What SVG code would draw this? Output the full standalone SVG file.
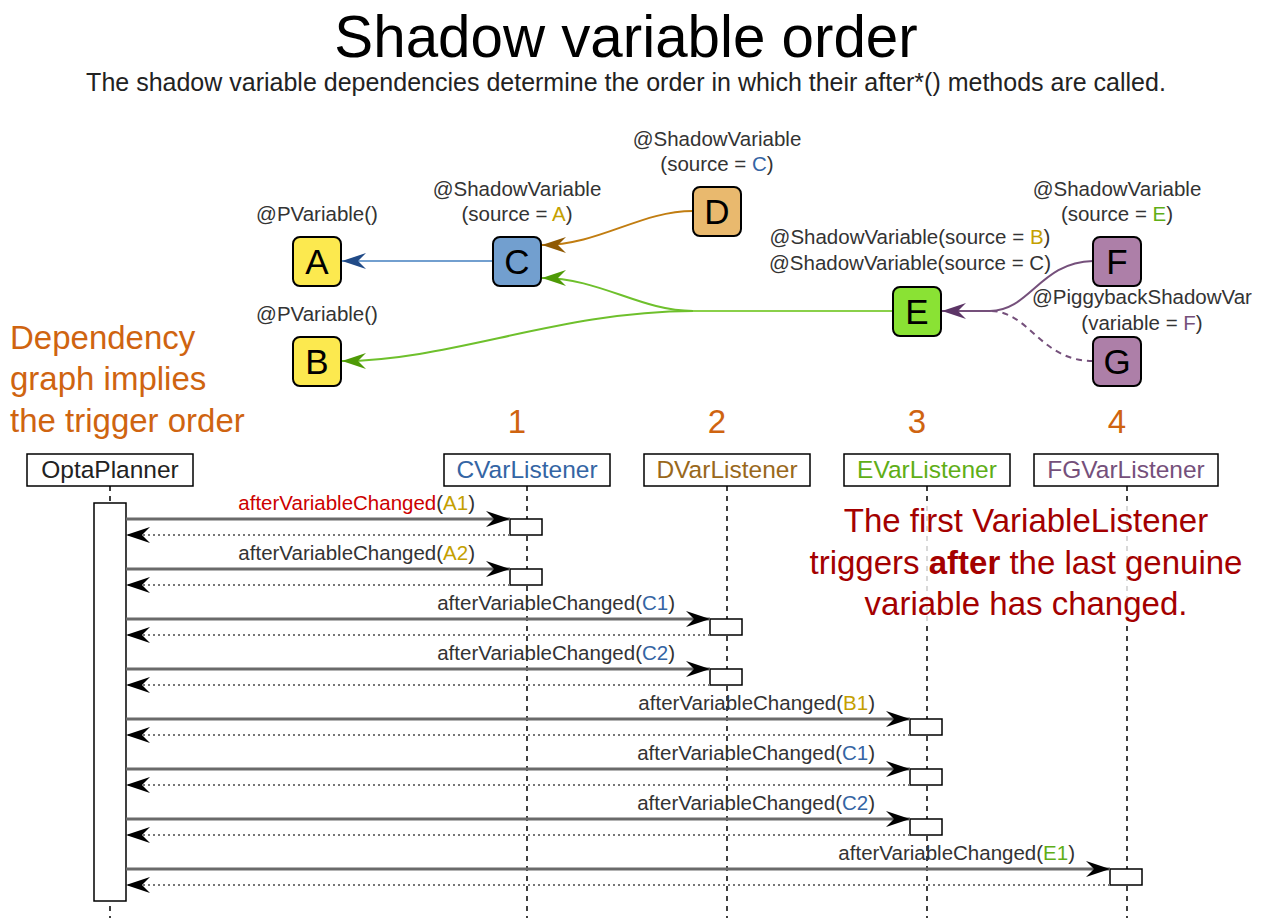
<svg xmlns="http://www.w3.org/2000/svg" width="1266" height="918" viewBox="0 0 1266 918">
<style>
text{font-family:"Liberation Sans",Arial,sans-serif}
.title{font-size:58.3px;fill:#000;text-anchor:middle}
.sub{font-size:25px;fill:#222;text-anchor:middle}
.lbl{font-size:20.5px;fill:#333;text-anchor:middle}
.letter{font-size:35px;fill:#000;text-anchor:middle}
.node{stroke:#000;stroke-width:2}
.orange{font-size:33px;fill:#cf6410}
.num{font-size:33px;fill:#cf6410;text-anchor:middle}
.red{font-size:33px;fill:#a40000;text-anchor:middle}
.part{fill:#fff;stroke:#000;stroke-width:1.5}
.ptxt{font-size:24.5px;text-anchor:middle}
.life{stroke:#000;stroke-width:1.5;stroke-dasharray:5,5;fill:none}
.act{fill:#fff;stroke:#000;stroke-width:1.5}
.call{stroke:#6a6a6a;stroke-width:3;fill:none}
.ret{stroke:#777;stroke-width:2;stroke-dasharray:2,3;fill:none}
.msg{font-size:20.5px;fill:#333;text-anchor:end}
.y{fill:#c4a000}.b{fill:#3465a4}.g{fill:#5fae17}.p{fill:#75507b}
</style>
<defs>
<marker id="mBlue" viewBox="-26 -9 27 18" refX="0" refY="0" markerWidth="27" markerHeight="18" markerUnits="userSpaceOnUse" orient="auto"><path d="M0,0 L-24,-8 L-16,0 L-24,8 Z" fill="#204a87"/></marker>
<marker id="mBrown" viewBox="-26 -9 27 18" refX="0" refY="0" markerWidth="27" markerHeight="18" markerUnits="userSpaceOnUse" orient="auto"><path d="M0,0 L-24,-8 L-16,0 L-24,8 Z" fill="#8f5902"/></marker>
<marker id="mGreen" viewBox="-26 -9 27 18" refX="0" refY="0" markerWidth="27" markerHeight="18" markerUnits="userSpaceOnUse" orient="auto"><path d="M0,0 L-24,-8 L-16,0 L-24,8 Z" fill="#4e9a06"/></marker>
<marker id="mPurple" viewBox="-26 -9 27 18" refX="0" refY="0" markerWidth="27" markerHeight="18" markerUnits="userSpaceOnUse" orient="auto"><path d="M0,0 L-24,-8 L-16,0 L-24,8 Z" fill="#5c3566"/></marker>
<marker id="mBlack" viewBox="-26 -9 27 18" refX="0" refY="0" markerWidth="27" markerHeight="18" markerUnits="userSpaceOnUse" orient="auto"><path d="M0,0 L-24,-8 L-16,0 L-24,8 Z" fill="#000"/></marker>
</defs>

<text class="title" x="626" y="57">Shadow variable order</text>
<text class="sub" x="626" y="91">The shadow variable dependencies determine the order in which their after*() methods are called.</text>

<g id="graph-connectors">
<path d="M493,261 L342,261" stroke="#729fcf" stroke-width="2.2" fill="none" marker-end="url(#mBlue)"/>
<path d="M693,211 C640,211 600,245 542,245" stroke="#c17d11" stroke-width="2" fill="none" marker-end="url(#mBrown)"/>
<path d="M893,311 L693,311" stroke="#8ad04a" stroke-width="2" fill="none"/>
<path d="M693,311 C640,311 600,278 542,278" stroke="#6ec02c" stroke-width="2" fill="none" marker-end="url(#mGreen)"/>
<path d="M693,311 C560,311 450,361 342,361" stroke="#6ec02c" stroke-width="2" fill="none" marker-end="url(#mGreen)"/>
<path d="M1093,261 C1040,262 1030,311 990,311 L942,311" stroke="#75507b" stroke-width="2" fill="none" marker-end="url(#mPurple)"/>
<path d="M1093,361 C1040,361 1030,311 990,311" stroke="#75507b" stroke-width="2" stroke-dasharray="6,5" fill="none"/>
</g>

<g id="node-A">
<text class="lbl" x="317" y="221">@PVariable()</text>
<rect class="node" x="293" y="237" width="48" height="49" rx="7" fill="#fce94f"/>
<text class="letter" x="317" y="274">A</text>
</g>
<g id="node-B">
<text class="lbl" x="317" y="321">@PVariable()</text>
<rect class="node" x="293" y="337" width="48" height="49" rx="7" fill="#fce94f"/>
<text class="letter" x="317" y="374">B</text>
</g>
<g id="node-C">
<text class="lbl" x="517" y="196">@ShadowVariable</text>
<text class="lbl" x="517" y="221">(source = <tspan class="y">A</tspan>)</text>
<rect class="node" x="493" y="237" width="48" height="49" rx="7" fill="#729fcf"/>
<text class="letter" x="517" y="274">C</text>
</g>
<g id="node-D">
<text class="lbl" x="717" y="146">@ShadowVariable</text>
<text class="lbl" x="717" y="171">(source = <tspan class="b">C</tspan>)</text>
<rect class="node" x="693" y="187" width="48" height="49" rx="7" fill="#e9b96e"/>
<text class="letter" x="717" y="224">D</text>
</g>
<g id="node-E">
<text class="lbl" x="910" y="244">@ShadowVariable(source = <tspan class="y">B</tspan>)</text>
<text class="lbl" x="910" y="270">@ShadowVariable(source = C)</text>
<rect class="node" x="893" y="287" width="48" height="49" rx="7" fill="#8ae234"/>
<text class="letter" x="917" y="324">E</text>
</g>
<g id="node-F">
<text class="lbl" x="1117" y="196">@ShadowVariable</text>
<text class="lbl" x="1117" y="221">(source = <tspan class="g">E</tspan>)</text>
<rect class="node" x="1093" y="237" width="48" height="49" rx="7" fill="#ad7fa8"/>
<text class="letter" x="1117" y="274">F</text>
</g>
<g id="node-G">
<text class="lbl" x="1142" y="304">@PiggybackShadowVar</text>
<text class="lbl" x="1142" y="330">(variable = <tspan class="p">F</tspan>)</text>
<rect class="node" x="1093" y="337" width="48" height="49" rx="7" fill="#ad7fa8"/>
<text class="letter" x="1117" y="374">G</text>
</g>

<g id="note-dependency">
<text class="orange" x="10" y="349">Dependency</text>
<text class="orange" x="10" y="390">graph implies</text>
<text class="orange" x="10" y="432">the trigger order</text>
</g>

<g id="order-numbers">
<text class="num" x="517" y="433">1</text>
<text class="num" x="717" y="433">2</text>
<text class="num" x="917" y="433">3</text>
<text class="num" x="1117" y="433">4</text>
</g>

<g id="lifelines">
<line class="life" x1="110" y1="486" x2="110" y2="918"/>
<line class="life" x1="527" y1="486" x2="527" y2="918"/>
<line class="life" x1="727" y1="486" x2="727" y2="918"/>
<line class="life" x1="927" y1="486" x2="927" y2="918"/>
<line class="life" x1="1127" y1="486" x2="1127" y2="918"/>
</g>

<g id="p-OptaPlanner"><rect class="part" x="27" y="454" width="166" height="32"/><text class="ptxt" x="110" y="478" fill="#222">OptaPlanner</text></g>
<g id="p-CVarListener"><rect class="part" x="444" y="454" width="166" height="32"/><text class="ptxt" x="527" y="478" fill="#3465a4">CVarListener</text></g>
<g id="p-DVarListener"><rect class="part" x="644" y="454" width="166" height="32"/><text class="ptxt" x="727" y="478" fill="#99681b">DVarListener</text></g>
<g id="p-EVarListener"><rect class="part" x="844" y="454" width="166" height="32"/><text class="ptxt" x="927" y="478" fill="#5fae17">EVarListener</text></g>
<g id="p-FGVarListener"><rect class="part" x="1034" y="454" width="184" height="32"/><text class="ptxt" x="1126" y="478" fill="#75507b">FGVarListener</text></g>

<g id="note-first">
<rect x="800" y="504" width="456" height="122" fill="#fff" opacity="0.8"/>
<text class="red" x="1026" y="532">The first VariableListener</text>
<text class="red" x="1026" y="574">triggers <tspan font-weight="bold">after</tspan> the last genuine</text>
<text class="red" x="1026" y="615">variable has changed.</text>
</g>

<g id="activations">
<rect class="act" x="94" y="503" width="32" height="398"/>
<rect class="act" x="510" y="519" width="32" height="16"/>
<rect class="act" x="510" y="569" width="32" height="16"/>
<rect class="act" x="710" y="619" width="32" height="16"/>
<rect class="act" x="710" y="669" width="32" height="16"/>
<rect class="act" x="910" y="719" width="32" height="16"/>
<rect class="act" x="910" y="769" width="32" height="16"/>
<rect class="act" x="910" y="819" width="32" height="16"/>
<rect class="act" x="1110" y="869" width="32" height="16"/>
</g>

<g id="messages">
<path class="call" d="M126,519 L510,519" marker-end="url(#mBlack)"/>
<path class="ret" d="M510,535 L126,535" marker-end="url(#mBlack)"/>
<text class="msg" x="475" y="510"><tspan fill="#cc0000">afterVariableChanged</tspan>(<tspan class="y">A1</tspan>)</text>

<path class="call" d="M126,569 L510,569" marker-end="url(#mBlack)"/>
<path class="ret" d="M510,585 L126,585" marker-end="url(#mBlack)"/>
<text class="msg" x="475" y="560">afterVariableChanged(<tspan class="y">A2</tspan>)</text>

<path class="call" d="M126,619 L710,619" marker-end="url(#mBlack)"/>
<path class="ret" d="M710,635 L126,635" marker-end="url(#mBlack)"/>
<text class="msg" x="675" y="610">afterVariableChanged(<tspan class="b">C1</tspan>)</text>

<path class="call" d="M126,669 L710,669" marker-end="url(#mBlack)"/>
<path class="ret" d="M710,685 L126,685" marker-end="url(#mBlack)"/>
<text class="msg" x="675" y="660">afterVariableChanged(<tspan class="b">C2</tspan>)</text>

<path class="call" d="M126,719 L910,719" marker-end="url(#mBlack)"/>
<path class="ret" d="M910,735 L126,735" marker-end="url(#mBlack)"/>
<text class="msg" x="875" y="710">afterVariableChanged(<tspan class="y">B1</tspan>)</text>

<path class="call" d="M126,769 L910,769" marker-end="url(#mBlack)"/>
<path class="ret" d="M910,785 L126,785" marker-end="url(#mBlack)"/>
<text class="msg" x="875" y="760">afterVariableChanged(<tspan class="b">C1</tspan>)</text>

<path class="call" d="M126,819 L910,819" marker-end="url(#mBlack)"/>
<path class="ret" d="M910,835 L126,835" marker-end="url(#mBlack)"/>
<text class="msg" x="875" y="810">afterVariableChanged(<tspan class="b">C2</tspan>)</text>

<path class="call" d="M126,869 L1110,869" marker-end="url(#mBlack)"/>
<path class="ret" d="M1110,885 L126,885" marker-end="url(#mBlack)"/>
<text class="msg" x="1075" y="860">afterVariableChanged(<tspan class="g">E1</tspan>)</text>
</g>
</svg>
